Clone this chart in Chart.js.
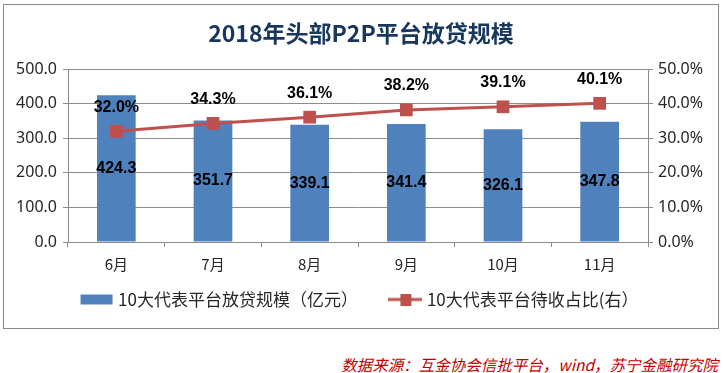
<!DOCTYPE html>
<html>
<head>
<meta charset="utf-8">
<script src="https://cdn.jsdelivr.net/npm/chart.js@4/dist/chart.umd.min.js"></script>
<style>
  body { margin: 0; background: #fff; }
  #box { position: absolute; left: 3px; top: 4px; width: 714px; height: 323px; border: 1px solid #8a8a8a; }
  #src { position: absolute; right: 5px; top: 353px; color: #c00000; font: italic 15.5px "Noto Sans CJK SC"; white-space: nowrap; }
</style>
</head>
<body>
<div id="box"><canvas id="chart" width="714" height="323"></canvas></div>
<div id="src">数据来源：互金协会信批平台，wind，苏宁金融研究院</div>
<script>
const months = ["6月", "7月", "8月", "9月", "10月", "11月"];
const loanScale = [424.3, 351.7, 339.1, 341.4, 326.1, 347.8];
const pendingShare = [32.0, 34.3, 36.1, 38.2, 39.1, 40.1];

const blue = "#4f81bd";
const red = "#c0504d";
const gridGray = "#8c8c8c";
const textColor = "#262626";

function legendIcon(kind) {
    const c = document.createElement("canvas");
    c.width = 34; c.height = 12;
    const g = c.getContext("2d");
    if (kind === "bar") {
        g.fillStyle = blue;
        g.fillRect(1, 1, 32, 10);
    } else {
        g.strokeStyle = red; g.lineWidth = 3;
        g.beginPath(); g.moveTo(0, 6); g.lineTo(34, 6); g.stroke();
        g.fillStyle = red;
        g.fillRect(12, 0, 11, 12);
    }
    return c;
}
const icons = [legendIcon("bar"), legendIcon("line")];

// value labels: bars in the middle, line points above
const valueLabels = {
    id: "valueLabels",
    afterDatasetsDraw(chart) {
        const ctx = chart.ctx;
        ctx.save();
        ctx.font = 'bold 16px "Liberation Sans"';
        ctx.fillStyle = "#000";
        ctx.textAlign = "center";
        ctx.textBaseline = "middle";
        chart.getDatasetMeta(0).data.forEach((bar, i) => {
            ctx.fillText(loanScale[i].toFixed(1), bar.x, (bar.y + bar.base) / 2);
        });
        chart.getDatasetMeta(1).data.forEach((pt, i) => {
            ctx.fillText(pendingShare[i].toFixed(1) + "%", pt.x, pt.y - 24);
        });
        ctx.restore();
    }
};

const config = {
    type: "bar",
    data: {
        labels: months,
        datasets: [
            { type: "bar", label: "10大代表平台放贷规模（亿元）", data: loanScale,
              backgroundColor: blue, barPercentage: 0.4, categoryPercentage: 1,
              yAxisID: "y", order: 1 },
            { type: "line", label: "10大代表平台待收占比(右）", data: pendingShare,
              borderColor: red, borderWidth: 3, backgroundColor: red,
              pointStyle: "rect", pointRadius: 9, pointBorderWidth: 0,
              yAxisID: "y1", order: 0 }
        ]
    },
    options: {
        responsive: false,
        animation: false,
        layout: { padding: { bottom: 10 } },
        plugins: {
            title: {
                display: true,
                text: "2018年头部P2P平台放贷规模",
                color: "#17375e",
                font: { family: "Noto Sans CJK SC", size: 23, weight: "bold" },
                padding: { top: 14, bottom: 22.5 }
            },
            legend: {
                position: "bottom",
                labels: {
                    usePointStyle: true,
                    pointStyleWidth: 26,
                    padding: 9,
                    color: textColor,
                    font: { family: "Noto Sans CJK SC", size: 17 },
                    generateLabels: chart => chart.data.datasets.map((ds, i) => ({
                        text: i === 0 ? ds.label + "\u3000\u3000" : ds.label,
                        pointStyle: icons[i],
                        fillStyle: "transparent",
                        strokeStyle: "transparent",
                        lineWidth: 0,
                        fontColor: textColor,
                        hidden: false,
                        datasetIndex: i
                    }))
                }
            },
            tooltip: { enabled: false }
        },
        scales: {
            x: {
                grid: { display: true, drawOnChartArea: false, color: gridGray, tickLength: 5 },
                border: { display: true, color: gridGray },
                ticks: { color: textColor, padding: 8, font: { family: "Noto Sans CJK SC", size: 15 } },
                afterFit: s => { s.height = 40; }
            },
            y: {
                position: "left",
                min: 0, max: 500,
                ticks: { stepSize: 100, color: textColor, padding: 6,
                         font: { family: "Noto Sans", size: 16 },
                         callback: v => v.toFixed(1) },
                grid: { color: gridGray, tickLength: 5 },
                border: { display: true, color: gridGray },
                afterFit: s => { s.width = 64; }
            },
            y1: {
                position: "right",
                min: 0, max: 50,
                ticks: { stepSize: 10, color: textColor, padding: 5,
                         font: { family: "Noto Sans", size: 16 },
                         callback: v => v.toFixed(1) + "%" },
                grid: { drawOnChartArea: false, color: gridGray, tickLength: 5 },
                border: { display: true, color: gridGray },
                afterFit: s => { s.width = 70; }
            }
        }
    },
    plugins: [valueLabels]
};

const context = document.getElementById("chart");
const chart = new Chart(context, config);
</script>
</body>
</html>
